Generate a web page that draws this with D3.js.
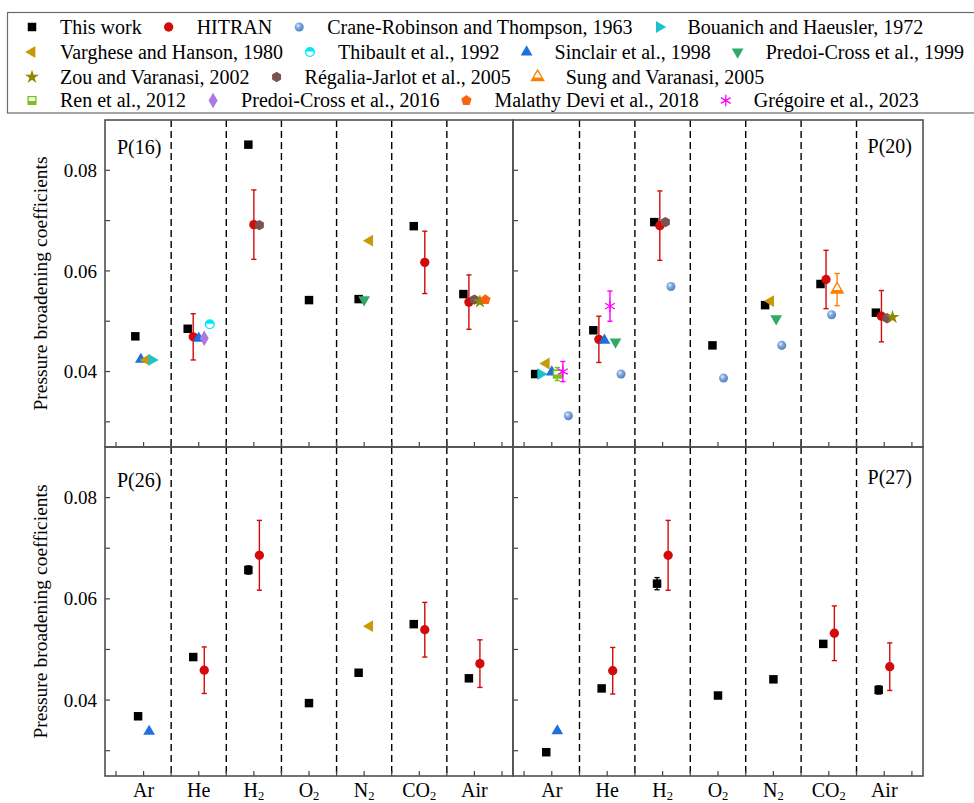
<!DOCTYPE html>
<html>
<head>
<meta charset="utf-8">
<script src="https://cdn.jsdelivr.net/npm/d3@7"></script>
<style>
  body { margin: 0; background: #fff; }
  text { font-family: "Liberation Serif", "Times New Roman", serif; fill: #000; }
</style>
</head>
<body>
<svg id="chart" width="974" height="803"></svg>
<script>
// gases on the x axis (index = category position)
const gases = ['Ar', 'He', 'H2', 'O2', 'N2', 'CO2', 'Air'];

// legend order, four rows
const legendRows = [
  ['This work', 'HITRAN', 'Crane-Robinson and Thompson, 1963', 'Bouanich and Haeusler, 1972'],
  ['Varghese and Hanson, 1980', 'Thibault et al., 1992', 'Sinclair et al., 1998', 'Predoi-Cross et al., 1999'],
  ['Zou and Varanasi, 2002', 'Régalia-Jarlot et al., 2005', 'Sung and Varanasi, 2005'],
  ['Ren et al., 2012', 'Predoi-Cross et al., 2016', 'Malathy Devi et al., 2018', 'Grégoire et al., 2023']
];

// rows: [gas, source, coefficient, uncertainty]  (listed in drawing order inside each gas)
const p16 = [
  ['Ar', 'This work', 0.0470, 0],
  ['Ar', 'Sinclair et al., 1998', 0.0424, 0],
  ['Ar', 'Varghese and Hanson, 1980', 0.0423, 0],
  ['Ar', 'Bouanich and Haeusler, 1972', 0.0423, 0],
  ['He', 'This work', 0.0485, 0],
  ['He', 'HITRAN', 0.0469, 0.0046],
  ['He', 'Sinclair et al., 1998', 0.0466, 0],
  ['He', 'Predoi-Cross et al., 2016', 0.0466, 0],
  ['He', 'Thibault et al., 1992', 0.0494, 0],
  ['H2', 'This work', 0.0851, 0],
  ['H2', 'HITRAN', 0.0692, 0.0069],
  ['H2', 'Régalia-Jarlot et al., 2005', 0.0691, 0],
  ['O2', 'This work', 0.0542, 0],
  ['N2', 'This work', 0.0544, 0],
  ['N2', 'Predoi-Cross et al., 1999', 0.0543, 0],
  ['N2', 'Varghese and Hanson, 1980', 0.0660, 0],
  ['CO2', 'This work', 0.0689, 0],
  ['CO2', 'HITRAN', 0.0617, 0.0062],
  ['Air', 'This work', 0.0554, 0],
  ['Air', 'HITRAN', 0.0538, 0.0054],
  ['Air', 'Régalia-Jarlot et al., 2005', 0.0543, 0],
  ['Air', 'Zou and Varanasi, 2002', 0.0539, 0],
  ['Air', 'Malathy Devi et al., 2018', 0.0543, 0]
];

const p20 = [
  ['Ar', 'This work', 0.0395, 0],
  ['Ar', 'Bouanich and Haeusler, 1972', 0.0395, 0],
  ['Ar', 'Varghese and Hanson, 1980', 0.0416, 0],
  ['Ar', 'Sinclair et al., 1998', 0.0399, 0],
  ['Ar', 'Ren et al., 2012', 0.0395, 0.0013],
  ['Ar', 'Grégoire et al., 2023', 0.0400, 0.0020],
  ['Ar', 'Crane-Robinson and Thompson, 1963', 0.0312, 0],
  ['He', 'This work', 0.0482, 0],
  ['He', 'HITRAN', 0.0464, 0.0046],
  ['He', 'Sinclair et al., 1998', 0.0462, 0],
  ['He', 'Grégoire et al., 2023', 0.0530, 0.0030],
  ['He', 'Predoi-Cross et al., 1999', 0.0459, 0],
  ['He', 'Crane-Robinson and Thompson, 1963', 0.0395, 0],
  ['H2', 'This work', 0.0697, 0],
  ['H2', 'HITRAN', 0.0690, 0.0069],
  ['H2', 'Régalia-Jarlot et al., 2005', 0.0697, 0],
  ['H2', 'Crane-Robinson and Thompson, 1963', 0.0569, 0],
  ['O2', 'This work', 0.0452, 0],
  ['O2', 'Crane-Robinson and Thompson, 1963', 0.0387, 0],
  ['N2', 'This work', 0.0532, 0],
  ['N2', 'Varghese and Hanson, 1980', 0.0540, 0],
  ['N2', 'Predoi-Cross et al., 1999', 0.0505, 0],
  ['N2', 'Crane-Robinson and Thompson, 1963', 0.0452, 0],
  ['CO2', 'This work', 0.0574, 0],
  ['CO2', 'HITRAN', 0.0583, 0.0058],
  ['CO2', 'Crane-Robinson and Thompson, 1963', 0.0513, 0],
  ['CO2', 'Sung and Varanasi, 2005', 0.0563, 0.0032],
  ['Air', 'This work', 0.0517, 0],
  ['Air', 'HITRAN', 0.0510, 0.0051],
  ['Air', 'Régalia-Jarlot et al., 2005', 0.0506, 0],
  ['Air', 'Zou and Varanasi, 2002', 0.0508, 0]
];

const p26 = [
  ['Ar', 'This work', 0.0368, 0],
  ['Ar', 'Sinclair et al., 1998', 0.0338, 0],
  ['He', 'This work', 0.0485, 0],
  ['He', 'HITRAN', 0.0459, 0.0046],
  ['H2', 'This work', 0.0657, 0.0008],
  ['H2', 'HITRAN', 0.0686, 0.0069],
  ['O2', 'This work', 0.0394, 0],
  ['N2', 'This work', 0.0454, 0],
  ['N2', 'Varghese and Hanson, 1980', 0.0546, 0],
  ['CO2', 'This work', 0.0550, 0],
  ['CO2', 'HITRAN', 0.0539, 0.0054],
  ['Air', 'This work', 0.0443, 0],
  ['Air', 'HITRAN', 0.0472, 0.0047]
];

const p27 = [
  ['Ar', 'This work', 0.0297, 0],
  ['Ar', 'Sinclair et al., 1998', 0.0339, 0],
  ['He', 'This work', 0.0423, 0],
  ['He', 'HITRAN', 0.0458, 0.0046],
  ['H2', 'This work', 0.0630, 0.0012],
  ['H2', 'HITRAN', 0.0686, 0.0069],
  ['O2', 'This work', 0.0409, 0],
  ['N2', 'This work', 0.0441, 0],
  ['CO2', 'This work', 0.0511, 0.0005],
  ['CO2', 'HITRAN', 0.0532, 0.0054],
  ['Air', 'This work', 0.0420, 0.0008],
  ['Air', 'HITRAN', 0.0466, 0.0047]
];

const yMajor = [0.04, 0.06, 0.08];
const yMinor = [0.03, 0.05, 0.07];

// marker styles
const styles = {
  'This work':                         { shape: 'square',   color: '#000000', size: 72 },
  'HITRAN':                            { shape: 'circle',   color: '#d20a0a', size: 68 },
  'Crane-Robinson and Thompson, 1963': { shape: 'sphere',   color: '#5b8fcf', size: 64 },
  'Bouanich and Haeusler, 1972':       { shape: 'triangle', color: '#1cc3cc', size: 60, rot: 90 },
  'Varghese and Hanson, 1980':         { shape: 'triangle', color: '#c99a08', size: 60, rot: -90 },
  'Thibault et al., 1992':             { shape: 'circle',   color: '#00e8f8', size: 60, half: 'top' },
  'Sinclair et al., 1998':             { shape: 'triangle', color: '#1f6fde', size: 60 },
  'Predoi-Cross et al., 1999':         { shape: 'triangle', color: '#2faa68', size: 60, rot: 180 },
  'Zou and Varanasi, 2002':            { shape: 'star',     color: '#8f8a00', size: 60 },
  'Régalia-Jarlot et al., 2005':       { shape: 'hexagon',  color: '#7b5252', size: 70 },
  'Sung and Varanasi, 2005':           { shape: 'triangle', color: '#ff8000', size: 64, half: 'bottom' },
  'Ren et al., 2012':                  { shape: 'square',   color: '#7cbf1a', size: 60, half: 'bottom' },
  'Predoi-Cross et al., 2016':         { shape: 'diamond',  color: '#ab7ae0', size: 70 },
  'Malathy Devi et al., 2018':         { shape: 'pentagon', color: '#f7650d', size: 70 },
  'Grégoire et al., 2023':             { shape: 'asterisk', color: '#ff00ff', size: 90 }
};

function polygonType(n) {
  return {
    draw: function(ctx, size) {
      const r = Math.sqrt(size / (n / 2 * Math.sin(2 * Math.PI / n)));
      for (let i = 0; i < n; i++) {
        const a = -Math.PI / 2 + i * 2 * Math.PI / n;
        if (i === 0) ctx.moveTo(r * Math.cos(a), r * Math.sin(a));
        else ctx.lineTo(r * Math.cos(a), r * Math.sin(a));
      }
      ctx.closePath();
    }
  };
}

const symbolTypes = {
  square: d3.symbolSquare,
  circle: d3.symbolCircle,
  sphere: d3.symbolCircle,
  triangle: d3.symbolTriangle,
  diamond: d3.symbolDiamond,
  star: d3.symbolStar,
  asterisk: d3.symbolAsterisk,
  hexagon: polygonType(6),
  pentagon: polygonType(5)
};

const svg = d3.select('#chart');
const defs = svg.append('defs');

const grad = defs.append('radialGradient')
  .attr('id', 'sphere').attr('cx', '38%').attr('cy', '35%').attr('r', '70%');
grad.append('stop').attr('offset', '0%').attr('stop-color', '#e4eefa');
grad.append('stop').attr('offset', '40%').attr('stop-color', '#7fa9dc');
grad.append('stop').attr('offset', '100%').attr('stop-color', '#4a7cbd');

defs.append('clipPath').attr('id', 'clip-top')
  .append('rect').attr('x', -10).attr('y', -10).attr('width', 20).attr('height', 9.5);
defs.append('clipPath').attr('id', 'clip-bottom')
  .append('rect').attr('x', -10).attr('y', 0.5).attr('width', 20).attr('height', 10);

function drawMarker(g, name) {
  const s = styles[name];
  const path = d3.symbol().type(symbolTypes[s.shape]).size(s.size)();
  const rot = s.rot ? 'rotate(' + s.rot + ')' : null;
  if (s.shape === 'asterisk') {
    g.append('path').attr('d', path).attr('fill', 'none')
      .attr('stroke', s.color).attr('stroke-width', 1.3);
  } else if (s.half) {
    g.append('path').attr('d', path).attr('transform', rot)
      .attr('fill', '#fff').attr('stroke', s.color).attr('stroke-width', 1.4);
    g.append('g').attr('clip-path', 'url(#clip-' + s.half + ')')
      .append('path').attr('d', path).attr('transform', rot)
      .attr('fill', s.color);
  } else if (s.shape === 'sphere') {
    g.append('path').attr('d', path).attr('fill', 'url(#sphere)');
  } else {
    g.append('path').attr('d', path).attr('transform', rot).attr('fill', s.color);
  }
}

// ---- legend ----
const legend = svg.append('g');
legend.append('rect')
  .attr('x', 7.5).attr('y', 12.5).attr('width', 990).attr('height', 100.5)
  .attr('fill', 'none').attr('stroke', '#6a6a6a').attr('stroke-width', 1.2);

const legendRowY = [27, 52, 77, 100.5];
legendRows.forEach(function(row, r) {
  let x = 32;
  row.forEach(function(name) {
    const g = legend.append('g').attr('transform', 'translate(' + x + ',' + legendRowY[r] + ')');
    drawMarker(g, name);
    const t = legend.append('text')
      .attr('x', x + 28).attr('y', legendRowY[r] + 6.8)
      .style('font-size', '20px')
      .text(name);
    x = x + 28 + t.node().getComputedTextLength() + 27;
  });
});

// ---- panels ----
const panels = [
  { label: 'P(16)', rows: p16, x0: 105, x1: 513, y0: 120, y1: 447, labelSide: 'left',  labelDy: 34, yLabels: true,  xLabels: false },
  { label: 'P(20)', rows: p20, x0: 513, x1: 923, y0: 120, y1: 447, labelSide: 'right', labelDy: 33, yLabels: false, xLabels: false },
  { label: 'P(26)', rows: p26, x0: 105, x1: 513, y0: 447, y1: 776, labelSide: 'left',  labelDy: 40, yLabels: true,  xLabels: true },
  { label: 'P(27)', rows: p27, x0: 513, x1: 923, y0: 447, y1: 776, labelSide: 'right', labelDy: 37, yLabels: false, xLabels: true }
];

panels.forEach(function(p) {
  const x = d3.scaleLinear().domain([-0.7, 6.7]).range([p.x0, p.x1]);
  const y = d3.scaleLinear().domain([0.025, 0.09]).range([p.y1, p.y0]);
  const g = svg.append('g');

  // dashed separators between gases
  g.selectAll('line.sep')
    .data(d3.range(0.5, 6, 1))
    .enter().append('line')
    .attr('x1', function(d) { return x(d); }).attr('x2', function(d) { return x(d); })
    .attr('y1', p.y0).attr('y2', p.y1)
    .attr('stroke', '#000').attr('stroke-width', 1.4).attr('stroke-dasharray', '7,4');

  // ticks (inward)
  g.selectAll('line.xt')
    .data(d3.range(-0.5, 6.6, 0.5))
    .enter().append('line')
    .attr('x1', function(d) { return x(d); }).attr('x2', function(d) { return x(d); })
    .attr('y1', p.y1).attr('y2', p.y1 - 5)
    .attr('stroke', '#444').attr('stroke-width', 1.2);

  g.selectAll('line.yt')
    .data(yMajor.concat(yMinor))
    .enter().append('line')
    .attr('x1', p.x0).attr('x2', p.x0 + 5)
    .attr('y1', function(d) { return y(d); }).attr('y2', function(d) { return y(d); })
    .attr('stroke', '#444').attr('stroke-width', 1.2);

  if (p.yLabels) {
    g.selectAll('text.yl')
      .data(yMajor)
      .enter().append('text')
      .attr('x', p.x0 - 8).attr('y', function(d) { return y(d); })
      .attr('dy', '0.35em').attr('text-anchor', 'end')
      .style('font-size', '19px')
      .text(d3.format('.2f'));

    g.append('text')
      .attr('transform', 'translate(47,' + ((p.y0 + p.y1) / 2) + ') rotate(-90)')
      .attr('text-anchor', 'middle')
      .style('font-size', '19.5px')
      .text('Pressure broadening coefficients');
  }

  if (p.xLabels) {
    gases.forEach(function(gas, i) {
      const t = g.append('text')
        .attr('x', x(i)).attr('y', 796.5)
        .attr('text-anchor', 'middle')
        .style('font-size', '20px');
      const m = gas.match(/^([A-Za-z]+?)(2?)$/);
      t.append('tspan').text(m[2] ? m[1] : gas);
      if (m[2]) t.append('tspan').attr('dy', 3.5).style('font-size', '12.5px').text('2');
    });
  }

  // points: spread sources within each gas
  const byGas = d3.group(p.rows, function(d) { return d[0]; });
  const pts = [];
  byGas.forEach(function(rows, gas) {
    const n = rows.length;
    const step = n === 2 ? 0.2 : 0.1;
    rows.forEach(function(d, k) {
      pts.push({
        source: d[1], value: d[2], err: d[3],
        pos: gases.indexOf(gas) + (k - (n - 1) / 2) * step
      });
    });
  });

  // error bars
  pts.filter(function(d) { return d.err > 0; }).forEach(function(d) {
    const c = styles[d.source].color;
    const cx = x(d.pos);
    const eb = g.append('g').attr('stroke', c).attr('stroke-width', 1.4);
    eb.append('line').attr('x1', cx).attr('x2', cx)
      .attr('y1', y(d.value - d.err)).attr('y2', y(d.value + d.err));
    [d.value - d.err, d.value + d.err].forEach(function(v) {
      eb.append('line').attr('x1', cx - 2.6).attr('x2', cx + 2.6)
        .attr('y1', y(v)).attr('y2', y(v));
    });
  });

  pts.forEach(function(d) {
    const mg = g.append('g').attr('transform', 'translate(' + x(d.pos) + ',' + y(d.value) + ')');
    drawMarker(mg, d.source);
  });

  // frame
  g.append('rect')
    .attr('x', p.x0).attr('y', p.y0)
    .attr('width', p.x1 - p.x0).attr('height', p.y1 - p.y0)
    .attr('fill', 'none').attr('stroke', '#505050').attr('stroke-width', 1.6);

  g.append('text')
    .attr('x', p.labelSide === 'left' ? p.x0 + 12 : p.x1 - 11)
    .attr('y', p.y0 + p.labelDy)
    .attr('text-anchor', p.labelSide === 'left' ? 'start' : 'end')
    .style('font-size', '20px')
    .text(p.label);
});
</script>
</body>
</html>
